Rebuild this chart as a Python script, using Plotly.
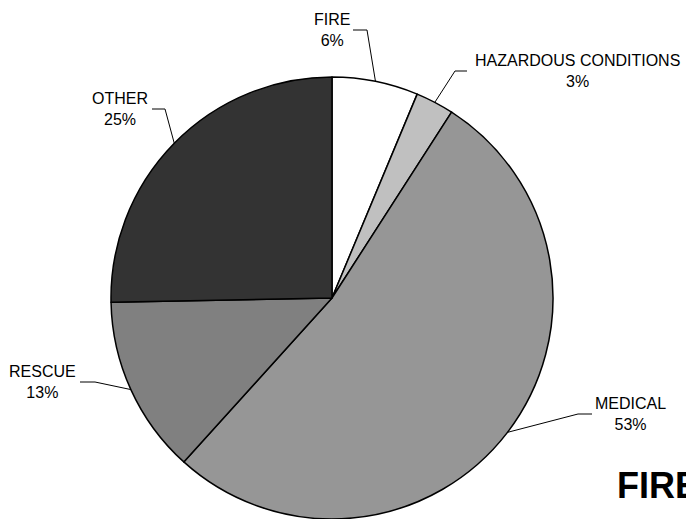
import math
import plotly.graph_objects as go

# ---- data ----
categories = ["FIRE", "HAZARDOUS CONDITIONS", "MEDICAL", "RESCUE", "OTHER"]
values = [6.3, 2.8, 52.6, 13.0, 25.3]
colors = ["#FFFFFF", "#C0C0C0", "#969696", "#808080", "#333333"]

# ---- layout constants (pixels) ----
W, H = 686, 519
CX, CY, R = 332, 298, 221
# label block centres and leader elbow / end points
label_pos = [(332, 30), (577, 71), (630, 414), (42, 382), (120, 109)]
elbow_pos = [(367, 30), (455, 71), (578, 414), (95, 382), (165, 109)]
end_pos = [(353, 30), (467, 71), (592, 414), (80, 382), (152, 109)]


def px(x, y):
    return x / W, 1 - y / H


fig = go.Figure(go.Pie(
    labels=categories,
    values=values,
    sort=False,
    direction="clockwise",
    rotation=0,
    textinfo="none",
    hoverinfo="label+percent",
    marker=dict(colors=colors, line=dict(color="#000000", width=1.5)),
    domain=dict(x=[(CX - R) / W, (CX + R) / W], y=[(H - CY - R) / H, (H - CY + R) / H]),
    showlegend=False,
))

total = sum(values)
cum = 0.0
annotations = []
shapes = []
for i, (cat, v) in enumerate(zip(categories, values)):
    mid = (cum + v / 2) / total * 2 * math.pi
    cum += v
    ax = CX + R * math.sin(mid)
    ay = CY - R * math.cos(mid)
    pct = round(v / total * 100)
    lx, ly = label_pos[i]
    annotations.append(dict(
        x=px(lx, ly)[0], y=px(lx, ly)[1], xref="paper", yref="paper",
        text=f"{cat}<br>{pct}%", showarrow=False, xanchor="center", yanchor="middle",
        font=dict(family="Liberation Sans, Arial", size=16, color="#000000"),
    ))
    p0 = px(ax, ay)
    p1 = px(*elbow_pos[i])
    p2 = px(*end_pos[i])
    shapes.append(dict(
        type="path", xref="paper", yref="paper",
        path=f"M {p0[0]} {p0[1]} L {p1[0]} {p1[1]} L {p2[0]} {p2[1]}",
        line=dict(color="#000000", width=1),
    ))

annotations.append(dict(
    x=615 / W, y=1 - 485 / H, xref="paper", yref="paper",
    text="<b>FIRE</b>", showarrow=False, xanchor="left", yanchor="middle",
    font=dict(family="Liberation Sans, Arial", size=36, color="#000000"),
))

fig.update_layout(
    width=W, height=H,
    margin=dict(l=0, r=0, t=0, b=0),
    paper_bgcolor="#FFFFFF",
    plot_bgcolor="#FFFFFF",
    annotations=annotations,
    shapes=shapes,
)

fig.write_html(
    "out.html",
    config={"displayModeBar": False},
    post_script="document.body.style.margin='0';document.body.style.overflow='hidden';",
)
